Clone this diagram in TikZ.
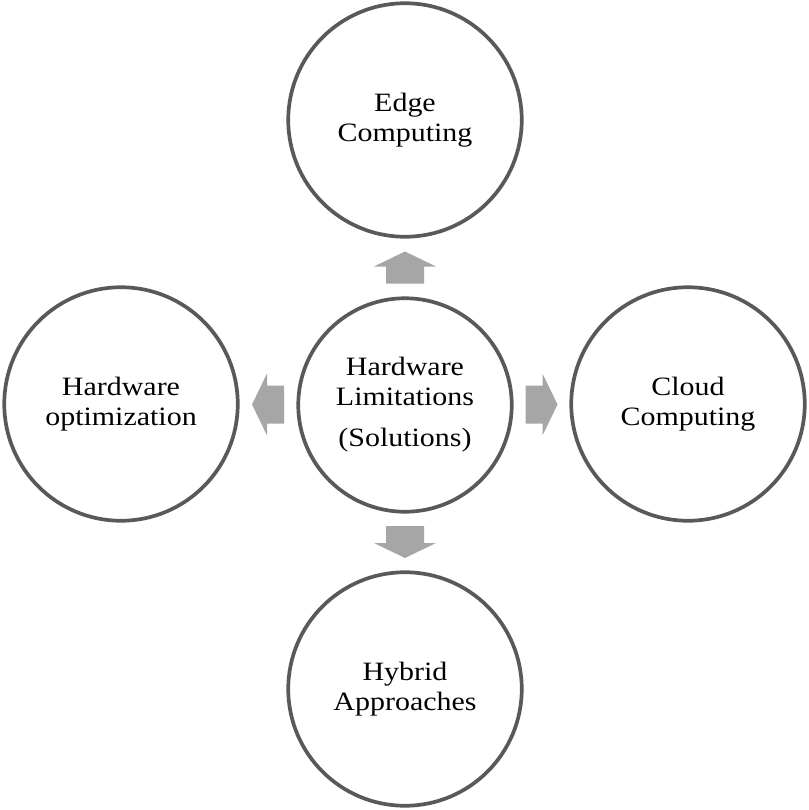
\documentclass[tikz,border=0pt]{standalone}
\usepackage{fontspec}
\setmainfont{Liberation Serif}[FakeStretch=1.13]
\usetikzlibrary{calc}
\definecolor{ringgray}{HTML}{595959}
\definecolor{arrowgray}{HTML}{A6A6A6}
\tikzset{
  ring/.style={circle, draw=ringgray, line width=3.7pt, fill=white, inner sep=0pt, outer sep=0pt,
    minimum size=233.5pt, align=center, text=black,
    font=\fontsize{26.5}{30}\selectfont},
  hubring/.style={ring, minimum size=213.5pt},
  blockarr/.pic={\fill[arrowgray] (-16,-19) -- (1,-19) -- (1,-31) -- (16,0) -- (1,31) -- (1,19) -- (-16,19) -- cycle;}
}
\begin{document}
\begin{tikzpicture}[x=1pt,y=-1pt]
\fill[white] (0,0) rectangle (808,810);
\useasboundingbox (0,0) rectangle (808,810);
\node[hubring] (c) at (405,405) {Hardware\\Limitations\\[11pt](Solutions)};
\node[ring] (t) at (405,120) {Edge\\Computing};
\node[ring] (l) at (121,404) {Hardware\\optimization};
\node[ring] (r) at (688,404) {Cloud\\Computing};
\node[ring] (b) at (405,689) {Hybrid\\Approaches};
\pic[rotate=90] at ($(c.north)!0.5!(t.south)$) {blockarr};
\pic[rotate=180] at ($(c.west)!0.5!(l.east)$) {blockarr};
\pic at ($(c.east)!0.5!(r.west)$) {blockarr};
\pic[rotate=-90] at ($(c.south)!0.5!(b.north)$) {blockarr};
\end{tikzpicture}
\end{document}
